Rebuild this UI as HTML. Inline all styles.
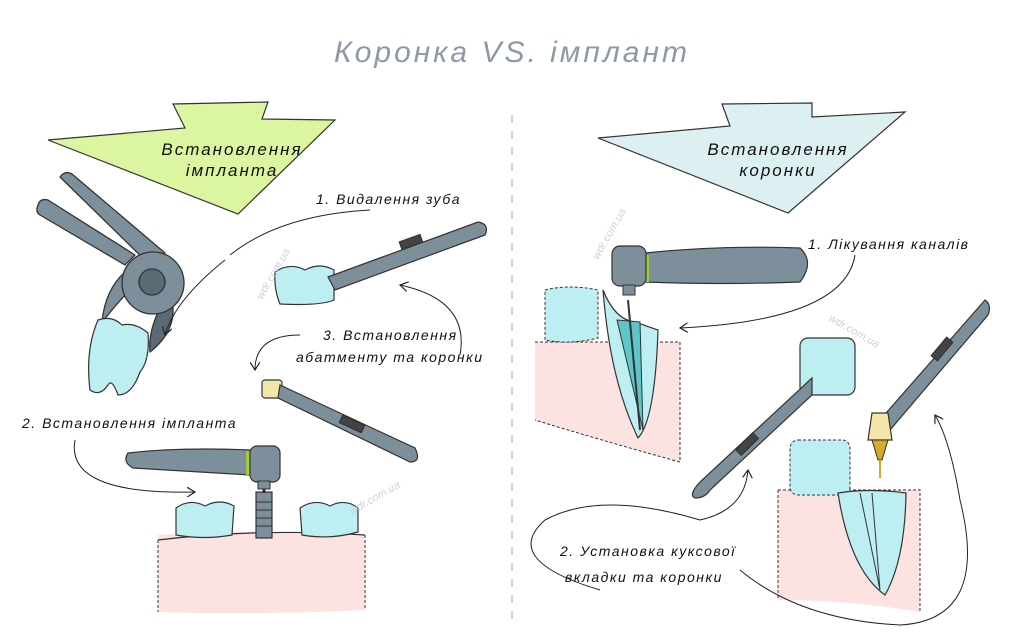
<!DOCTYPE html>
<html><head><meta charset="utf-8"><style>
html,body{margin:0;padding:0;background:#fff;}
svg{display:block;}
text{font-family:"Liberation Sans","DejaVu Sans",sans-serif;font-style:italic;}
</style></head><body>
<svg width="1024" height="642" viewBox="0 0 1024 642" xmlns="http://www.w3.org/2000/svg">
<defs>
<marker id="ah" markerWidth="10" markerHeight="10" refX="8" refY="5" orient="auto"><path d="M0,0 L8,5 L0,10" fill="none" stroke="#222" stroke-width="1.2"/></marker>
</defs>
<text x="512" y="62" text-anchor="middle" font-size="30" fill="#8a9aa6" letter-spacing="3">Коронка VS. імплант</text>
<line x1="512" y1="115" x2="512" y2="625" stroke="#b8c6cf" stroke-width="1.5" stroke-dasharray="8,8"/>

<polygon points="48,140 185,128 173,104 268,102 262,119 335,120 238,214" fill="#dcf5a0" stroke="#333" stroke-width="1.2"/>
<text x="232" y="155" text-anchor="middle" font-size="17" fill="#111" letter-spacing="2">Встановлення</text>
<text x="232" y="176" text-anchor="middle" font-size="17" fill="#111" letter-spacing="2">імпланта</text>
<polygon points="598,138 730,126 722,104 812,103 812,117 905,112 788,213" fill="#dcf0f2" stroke="#333" stroke-width="1.2"/>
<text x="778" y="155" text-anchor="middle" font-size="17" fill="#111" letter-spacing="2">Встановлення</text>
<text x="778" y="176" text-anchor="middle" font-size="17" fill="#111" letter-spacing="2">коронки</text>

<!-- forceps -->
<g stroke="#333" stroke-width="1.3" stroke-linejoin="round">
<path d="M102,322 Q105,290 125,272 L130,290 Q115,305 100,325 Z" fill="#7d8f9a"/>
<path d="M172,300 Q178,330 150,352 Q148,335 158,312 Z" fill="#5a6b76"/>
<path d="M60,177 Q65,170 72,174 L165,253 L150,265 Z" fill="#7d8f9a"/>
<path d="M38,205 Q40,198 48,200 L135,255 L125,265 L40,215 Q35,212 38,205Z" fill="#7d8f9a"/>
<circle cx="153" cy="283" r="31" fill="#7d8f9a"/>
<circle cx="152" cy="282" r="13" fill="#5a6b76"/>
</g>
<path d="M98,320 Q112,315 122,325 Q135,322 148,333 Q150,360 140,372 Q132,395 118,395 Q112,378 108,385 Q100,397 90,390 Q85,350 98,320Z" fill="#bdeef1" stroke="#333" stroke-width="1.2"/>
<path d="M225,260 Q175,300 165,335" fill="none" stroke="#222" stroke-width="1" marker-end="url(#ah)"/>
<path d="M370,210 Q280,215 230,255" fill="none" stroke="#222" stroke-width="1"/>
<text x="316" y="204" font-size="14" letter-spacing="1.5" fill="#111">1. Видалення зуба</text>

<path d="M275,272 Q290,262 305,270 Q320,262 334,270 L334,300 Q320,306 280,304 Q274,290 275,272Z" fill="#bdeef1" stroke="#333" stroke-width="1.2"/>
<g stroke="#333" stroke-width="1.2" fill="#7d8f9a">
<path d="M328,277 L478,222 Q490,224 485,235 L335,290 Z"/>
<rect x="400" y="238" width="22" height="8" transform="rotate(-20 411 242)" fill="#444"/>
</g>
<path d="M460,355 Q470,300 400,285" fill="none" stroke="#222" stroke-width="1" marker-end="url(#ah)"/>
<text x="323" y="340" font-size="14" letter-spacing="1.5" fill="#111">3. Встановлення</text>
<text x="296" y="362" font-size="14" letter-spacing="1.5" fill="#111">абатменту та коронки</text>
<path d="M300,335 Q255,335 255,370" fill="none" stroke="#222" stroke-width="1" marker-end="url(#ah)"/>
<rect x="262" y="380" width="20" height="18" rx="3" fill="#f4e6a8" stroke="#333" stroke-width="1.2"/>
<g stroke="#333" stroke-width="1.2" fill="#7d8f9a">
<path d="M280,385 L415,448 Q422,462 410,462 L278,398 Z"/>
<rect x="340" y="420" width="24" height="8" transform="rotate(25 352 424)" fill="#444"/>
</g>

<text x="22" y="428" font-size="14" letter-spacing="1.5" fill="#111">2. Встановлення імпланта</text>
<path d="M75,440 Q65,495 195,492" fill="none" stroke="#222" stroke-width="1" marker-end="url(#ah)"/>

<path d="M158,535 Q260,528 365,535 L365,610 Q260,615 158,612 Z" fill="#fde2e2" stroke="none"/>
<path d="M158,540 Q260,528 365,535" fill="none" stroke="#333" stroke-width="1.2"/>
<path d="M158,540 L158,612 M365,535 L365,610" stroke="#333" stroke-width="1" stroke-dasharray="3,2"/>
<path d="M176,508 Q190,498 205,506 Q220,498 234,506 L232,535 Q205,540 176,535 Z" fill="#bdeef1" stroke="#333" stroke-width="1.2"/>
<path d="M300,508 Q315,498 330,506 Q345,498 358,508 L358,532 Q330,540 302,535 Z" fill="#bdeef1" stroke="#333" stroke-width="1.2"/>
<rect x="256" y="492" width="16" height="46" fill="#7d8f9a" stroke="#333" stroke-width="1.2"/>
<g stroke="#333" stroke-width="1"><line x1="256" y1="502" x2="272" y2="502"/><line x1="256" y1="510" x2="272" y2="510"/><line x1="256" y1="518" x2="272" y2="518"/><line x1="256" y1="526" x2="272" y2="526"/></g>
<line x1="264" y1="480" x2="264" y2="493" stroke="#333" stroke-width="3"/>
<path d="M128,453 Q180,447 250,450 L250,475 Q200,472 133,468 Q122,462 128,453Z" fill="#7d8f9a" stroke="#333" stroke-width="1.2"/>
<rect x="246" y="451" width="4" height="24" fill="#9ccc3a"/>
<rect x="250" y="446" width="30" height="36" rx="7" fill="#7d8f9a" stroke="#333" stroke-width="1.2"/>
<rect x="258" y="481" width="12" height="8" fill="#7d8f9a" stroke="#333"/>

<path d="M535,342 L680,342 L680,462 Q600,440 535,420 Z" fill="#fde2e2"/>
<path d="M535,342 L680,342 M680,342 L680,462 Q600,440 535,420" fill="none" stroke="#333" stroke-width="1" stroke-dasharray="3,2"/>
<path d="M545,290 Q570,284 598,290 L598,338 Q570,345 545,340 Z" fill="#bdeef1" stroke="#333" stroke-width="1" stroke-dasharray="3,2"/>
<path d="M603,290 Q615,320 635,322 L658,330 Q655,420 638,438 Q610,380 603,290Z" fill="#bdeef1" stroke="#333" stroke-width="1.2"/>
<path d="M617,320 L640,322 L643,430 Z" fill="#5fc6c8" stroke="#333" stroke-width="1"/>
<line x1="628" y1="300" x2="640" y2="430" stroke="#333" stroke-width="2"/>
<path d="M645,253 Q720,245 800,248 Q815,262 800,282 Q720,285 645,282 Z" fill="#7d8f9a" stroke="#333" stroke-width="1.2"/>
<rect x="645" y="255" width="4" height="27" fill="#9ccc3a"/>
<rect x="612" y="246" width="34" height="40" rx="8" fill="#7d8f9a" stroke="#333" stroke-width="1.2"/>
<rect x="623" y="285" width="12" height="10" fill="#7d8f9a" stroke="#333"/>
<text x="808" y="249" font-size="14" letter-spacing="1.5" fill="#111">1. Лікування каналів</text>
<path d="M855,255 Q845,320 680,328" fill="none" stroke="#222" stroke-width="1" marker-end="url(#ah)"/>

<rect x="800" y="338" width="55" height="57" rx="8" fill="#bdeef1" stroke="#333" stroke-width="1.2"/>
<g stroke="#333" stroke-width="1.2" fill="#7d8f9a">
<path d="M812,378 L700,482 Q688,495 695,498 Q705,498 710,490 L812,395 Z"/>
<rect x="735" y="440" width="24" height="8" transform="rotate(-45 747 444)" fill="#444"/>
<path d="M880,420 L985,300 Q992,305 988,315 L890,430 Z"/>
<rect x="930" y="345" width="24" height="8" transform="rotate(-50 942 349)" fill="#444"/>
</g>
<path d="M872,413 L888,413 L892,440 L868,440 Z" fill="#f4e6a8" stroke="#333" stroke-width="1.2"/>
<path d="M872,440 L888,440 L882,460 L878,460 Z" fill="#d4a82a" stroke="#333"/>
<line x1="880" y1="460" x2="880" y2="478" stroke="#d4a82a" stroke-width="2"/>

<path d="M778,490 L920,490 L920,612 Q850,600 778,600 Z" fill="#fde2e2"/>
<path d="M778,490 L920,490 L920,612 M778,490 L778,600" fill="none" stroke="#333" stroke-width="1" stroke-dasharray="3,2"/>
<rect x="790" y="440" width="60" height="55" rx="8" fill="#bdeef1" stroke="#333" stroke-width="1" stroke-dasharray="3,2"/>
<path d="M838,493 Q870,488 906,493 Q905,560 885,595 Q850,570 838,493Z" fill="#bdeef1" stroke="#333" stroke-width="1.2"/>
<path d="M860,493 L880,590 L872,493" fill="none" stroke="#333" stroke-width="1"/>

<text x="560" y="556" font-size="14" letter-spacing="1.5" fill="#111">2. Установка куксової</text>
<text x="565" y="582" font-size="14" letter-spacing="1.5" fill="#111">вкладки та коронки</text>
<path d="M600,590 Q500,560 545,520 Q600,490 700,520 Q745,510 748,470" fill="none" stroke="#222" stroke-width="1" marker-end="url(#ah)"/>
<path d="M740,570 Q800,620 900,625 Q990,620 960,500 Q950,440 935,415" fill="none" stroke="#222" stroke-width="1" marker-end="url(#ah)"/>

<g font-size="11" fill="#c9d3da" font-style="normal">
<text transform="translate(262,300) rotate(-60)">wdr.com.ua</text>
<text transform="translate(598,260) rotate(-60)">wdr.com.ua</text>
<text transform="translate(352,515) rotate(-30)">wdr.com.ua</text>
<text transform="translate(828,320) rotate(30)">wdr.com.ua</text>
</g>
</svg>
</body></html>
